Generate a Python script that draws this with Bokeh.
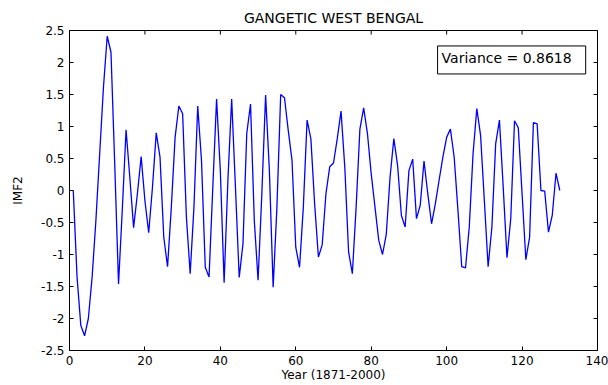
import math
from bokeh.plotting import figure
from bokeh.models import FixedTicker, Range1d, Label
from bokeh.embed import file_html
from bokeh.resources import INLINE

title_text = "GANGETIC WEST BENGAL"
x_label = "Year (1871-2000)"
y_label = "IMF2"
variance_text = "Variance = 0.8618"

x_ticks = [0, 20, 40, 60, 80, 100, 120, 140]
y_ticks = [-2.5, -2, -1.5, -1, -0.5, 0, 0.5, 1, 1.5, 2, 2.5]

years = list(range(1, 131))
imf2 = [
    0.0, -1.35, -2.11, -2.27, -2.0, -1.35, -0.47, 0.57, 1.61, 2.41,
    2.16, 0.4, -1.46, -0.3, 0.95, 0.2, -0.58, -0.05, 0.53, -0.16,
    -0.66, 0.05, 0.9, 0.52, -0.73, -1.19, -0.26, 0.83, 1.32, 1.2,
    -0.42, -1.3, -0.26, 1.32, 0.47, -1.2, -1.35, 0.05, 1.43, 0.3,
    -1.44, 0.16, 1.43, 0.05, -1.36, -0.83, 0.89, 1.35, -0.47, -1.4,
    -0.05, 1.49, 0.31, -1.51, -0.26, 1.5, 1.45, 0.94, 0.47, -0.89,
    -1.2, -0.26, 1.1, 0.81, -0.21, -1.04, -0.85, -0.05, 0.37, 0.43,
    0.81, 1.24, 0.36, -0.96, -1.3, -0.26, 0.96, 1.29, 0.89, 0.26,
    -0.26, -0.78, -1.0, -0.68, 0.21, 0.81, 0.39, -0.39, -0.57, 0.31,
    0.49, -0.44, -0.23, 0.46, -0.05, -0.52, -0.21, 0.16, 0.52, 0.83,
    0.96, 0.52, -0.31, -1.19, -1.21, -0.57, 0.57, 1.28, 0.86, -0.16,
    -1.19, -0.57, 0.73, 1.1, 0.05, -1.05, -0.44, 1.09, 0.98, -0.05,
    -1.08, -0.73, 1.06, 1.04, 0.0, -0.01, -0.65, -0.39, 0.27, 0.0,
]

FONT = "DejaVu Sans"
X_MIN, X_MAX = 0, 140
Y_MIN, Y_MAX = -2.5, 2.5

p = figure(width=608, height=385, output_backend="svg", toolbar_location=None,
           x_range=Range1d(X_MIN, X_MAX), y_range=Range1d(Y_MIN, Y_MAX),
           min_border_left=69, min_border_right=11, min_border_top=30,
           min_border_bottom=35, x_axis_label=x_label, y_axis_label=y_label)
p.background_fill_color = "white"
p.border_fill_color = "white"
p.outline_line_color = "black"
p.outline_line_width = 1
p.xgrid.visible = False
p.ygrid.visible = False

p.title.text = title_text
p.title.align = "center"
p.title.text_font = FONT
p.title.text_font_size = "14px"
p.title.text_font_style = "normal"
p.title.text_color = "black"
p.title.standoff = 9

def style_axis(ax, ticks):
    ax.ticker = FixedTicker(ticks=ticks)
    ax.major_tick_in = 4
    ax.major_tick_out = 0
    ax.minor_tick_line_color = None
    ax.axis_line_color = "black"
    ax.major_tick_line_color = "black"
    ax.major_label_text_font = FONT
    ax.major_label_text_color = "black"
    ax.major_label_text_font_size = "12px"
    ax.major_label_overrides = {t: f"{t:g}" for t in ticks}
    ax.axis_label_text_font = FONT
    ax.axis_label_text_font_size = "12px"
    ax.axis_label_text_font_style = "normal"
    ax.axis_label_text_color = "black"

for ax in p.xaxis:
    style_axis(ax, x_ticks)
    ax.major_label_standoff = 5
    ax.axis_label_standoff = 0
for ax in p.yaxis:
    style_axis(ax, y_ticks)
    ax.axis_label_standoff = 13

# inward tick marks on the top and right edges of the box (clipped to frame)
p.scatter(x=x_ticks, y=[Y_MAX] * len(x_ticks), marker="dash", size=8,
          angle=math.pi / 2, line_color="black", line_width=1)
p.scatter(x=[X_MAX] * len(y_ticks), y=y_ticks, marker="dash", size=8,
          line_color="black", line_width=1)

p.line(years, imf2, line_color="#0000ff", line_width=1.3)

lab = Label(x=97.6, y=2.04, text=variance_text, text_font=FONT,
            text_font_size="14px", text_align="left", text_baseline="middle",
            text_color="black", border_line_color="black", border_line_width=1,
            background_fill_color="white", padding=(4, 14, 4, 8))
p.add_layout(lab)

open("out.html", "w").write(file_html(p, INLINE))
